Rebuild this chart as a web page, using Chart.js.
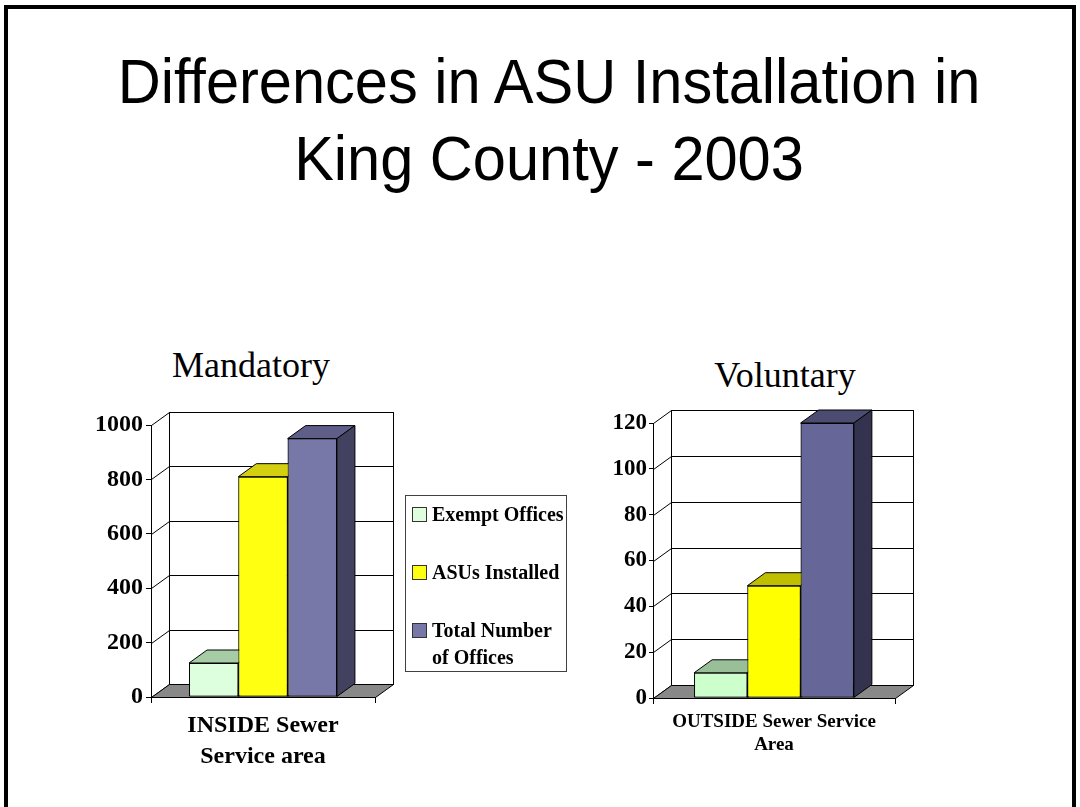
<!DOCTYPE html>
<html>
<head>
<meta charset="utf-8">
<script src="https://cdn.jsdelivr.net/npm/chart.js@4.4.1/dist/chart.umd.min.js"></script>
<style>
  body { margin: 0; background: #fff; width: 1080px; height: 807px; overflow: hidden; position: relative; }
  #frame { position: absolute; left: 4px; top: 5px; width: 1072px; height: 900px; box-sizing: border-box;
           border: 4px solid #000; border-bottom: none; }
  #title { position: absolute; left: 9px; top: 43px; width: 1080px; text-align: center;
           font-family: "Liberation Sans", Arial, sans-serif; font-size: 63px; line-height: 77px; color: #000;
           transform: scaleX(0.945); transform-origin: 540px 0; }
  .ctitle { position: absolute; width: 300px; text-align: center; font-family: "Liberation Serif", "Times New Roman", serif;
            font-size: 36px; line-height: 40px; color: #000; }
  canvas { position: absolute; }
  #legend { position: absolute; left: 405px; top: 495px; width: 162px; height: 177px; box-sizing: border-box;
            border: 1px solid #404040; padding: 5px 0 0 6px; font-family: "Liberation Serif", "Times New Roman", serif;
            font-weight: bold; font-size: 20px; line-height: 27px; color: #000; }
  .item { display: flex; align-items: flex-start; margin-bottom: 31px; }
  .sw { width: 13px; height: 13px; border: 1px solid #333; margin: 6px 5px 0 0; flex: none; }
  .txt { width: 136px; }
</style>
</head>
<body>
<div id="frame"></div>
<div id="title">Differences in ASU Installation in<br>King County - 2003</div>
<div class="ctitle" style="left:101px; top:345px;">Mandatory</div>
<div class="ctitle" style="left:635px; top:355px;">Voluntary</div>
<canvas id="mandatory" width="342" height="460" style="left:80px; top:330px;"></canvas>
<div id="legend"></div>
<canvas id="voluntary" width="370" height="450" style="left:600px; top:340px;"></canvas>

<script>
  /* Data
  -----------------------------------------------*/
  const seriesNames = ['Exempt Offices', 'ASUs Installed', 'Total Number of Offices'];
  const mandatoryCategory = [['INSIDE Sewer', 'Service area']];
  const voluntaryCategory = [['OUTSIDE Sewer Service', 'Area']];
  // one value per series: exempt, installed, total
  const mandatoryValues = [125, 810, 950];
  const voluntaryValues = [11, 49, 120];
  const mandatoryTicks = [0, 200, 400, 600, 800, 1000];
  const voluntaryTicks = [0, 20, 40, 60, 80, 100, 120];

  /* Colours
  -----------------------------------------------*/
  const mandatoryFront = ['#DDFFDD', '#FFFF11', '#7777A8'];
  const mandatoryTop   = ['#A6CCA6', '#D4D010', '#5E5E88'];
  const mandatorySide  = ['#A6CCA6', '#BFBF00', '#424260'];
  const voluntaryFront = ['#CCFFCC', '#FFFF00', '#666699'];
  const voluntaryTop   = ['#99BF99', '#BFBF00', '#4C4C73'];
  const voluntarySide  = ['#99BF99', '#A0A000', '#333350'];

  const SERIF = '"Liberation Serif", "Times New Roman", serif';

  // back wall, floor and the bar tops / sides, drawn from the chart's own scales
  function box3d(dx, dy, tops, sides) {
    return {
      id: 'box3d',
      beforeDraw(chart) {
        const ctx = chart.ctx, a = chart.chartArea, y = chart.scales.y;
        const l = Math.round(a.left) + 0.5, r = Math.round(a.right) + 0.5;
        const t = Math.round(a.top) + 0.5, b = Math.round(a.bottom) + 0.5;
        ctx.save();
        ctx.lineWidth = 1;
        ctx.strokeStyle = '#000';
        ctx.fillStyle = '#fff';
        ctx.fillRect(l + dx, t + dy, r - l, b - t);
        y.ticks.forEach(tk => {
          const py = Math.round(y.getPixelForValue(tk.value)) + 0.5;
          ctx.beginPath();
          ctx.moveTo(l, py);
          ctx.lineTo(l + dx, py + dy);
          ctx.lineTo(r + dx, py + dy);
          ctx.stroke();
        });
        ctx.strokeRect(l + dx, t + dy, r - l, b - t);
        // floor
        ctx.beginPath();
        ctx.moveTo(l, b);
        ctx.lineTo(r, b);
        ctx.lineTo(r + dx, b + dy);
        ctx.lineTo(l + dx, b + dy);
        ctx.closePath();
        ctx.fillStyle = '#888';
        ctx.fill();
        ctx.stroke();
        ctx.restore();
      },
      afterDatasetsDraw(chart) {
        const ctx = chart.ctx;
        ctx.save();
        ctx.lineWidth = 1;
        ctx.strokeStyle = '#000';
        chart.data.datasets.forEach((ds, i) => {
          chart.getDatasetMeta(i).data.forEach(bar => {
            const p = bar.getProps(['x', 'y', 'base', 'width'], true);
            const x0 = p.x - p.width / 2, x1 = p.x + p.width / 2;
            ctx.beginPath();
            ctx.moveTo(x0, p.y); ctx.lineTo(x1, p.y);
            ctx.lineTo(x1 + dx, p.y + dy); ctx.lineTo(x0 + dx, p.y + dy);
            ctx.closePath();
            ctx.fillStyle = tops[i]; ctx.fill(); ctx.stroke();
            ctx.beginPath();
            ctx.moveTo(x1, p.y); ctx.lineTo(x1 + dx, p.y + dy);
            ctx.lineTo(x1 + dx, p.base + dy); ctx.lineTo(x1, p.base);
            ctx.closePath();
            ctx.fillStyle = sides[i]; ctx.fill(); ctx.stroke();
            bar.draw(ctx);
          });
        });
        ctx.restore();
      }
    };
  }

  function makeChart(id, opt) {
    const ctx = document.getElementById(id).getContext('2d');
    return new Chart(ctx, {
      type: 'bar',
      data: {
        labels: opt.labels,
        datasets: seriesNames.map((name, i) => ({
          label: name,
          data: [opt.values[i]],
          backgroundColor: opt.front[i],
          borderColor: '#000',
          borderWidth: 1,
          borderSkipped: false,
          categoryPercentage: 0.66,
          barPercentage: 1
        }))
      },
      options: {
        responsive: false,
        animation: false,
        events: [],
        layout: { padding: opt.padding },
        plugins: { legend: { display: false }, tooltip: { enabled: false }, title: { display: false } },
        scales: {
          x: {
            offset: true,
            grid: { offset: true, drawOnChartArea: false, color: '#000', tickLength: 6 },
            border: { display: true, color: '#000' },
            ticks: { color: '#000', padding: opt.xPad, maxRotation: 0,
                     font: { family: SERIF, weight: 'bold', size: opt.xFont, lineHeight: opt.xLine } },
            afterFit: s => { s.height = opt.xHeight; }
          },
          y: {
            min: opt.ticks[0],
            max: opt.ticks[opt.ticks.length - 1],
            grid: { drawOnChartArea: false, color: '#000', tickLength: opt.tl },
            border: { display: true, color: '#000' },
            ticks: { stepSize: opt.ticks[1] - opt.ticks[0], color: '#000', padding: opt.yPad,
                     callback: v => String(v),
                     font: { family: SERIF, weight: 'bold', size: opt.yFont } },
            afterFit: s => { s.width = opt.yWidth; }
          }
        }
      },
      plugins: [box3d(opt.dx, opt.dy, opt.top, opt.side)]
    });
  }

  const mandatoryChart = makeChart('mandatory', {
    labels: mandatoryCategory, values: mandatoryValues, ticks: mandatoryTicks,
    front: mandatoryFront, top: mandatoryTop, side: mandatorySide,
    padding: { left: 0, top: 95, right: 47, bottom: 13 },
    yWidth: 71, xHeight: 80, xFont: 24, xLine: 1.29, xPad: 7, yFont: 24, tl: 5, yPad: 3,
    dx: 18, dy: -13
  });

  makeChart('voluntary', {
    labels: voluntaryCategory, values: voluntaryValues, ticks: voluntaryTicks,
    front: voluntaryFront, top: voluntaryTop, side: voluntarySide,
    padding: { left: 0, top: 83, right: 75, bottom: 22 },
    yWidth: 53, xHeight: 70, xFont: 19, xLine: 1.23, xPad: 6, yFont: 23, tl: 4, yPad: 2,
    dx: 18, dy: -13
  });

  /* Legend, built from the chart's own legend items
  -----------------------------------------------*/
  const items = Chart.defaults.plugins.legend.labels.generateLabels(mandatoryChart);
  document.getElementById('legend').innerHTML = items.map(it =>
    '<div class="item"><span class="sw" style="background:' + it.fillStyle + '"></span>' +
    '<span class="txt">' + it.text + '</span></div>').join('');
</script>
</body>
</html>
